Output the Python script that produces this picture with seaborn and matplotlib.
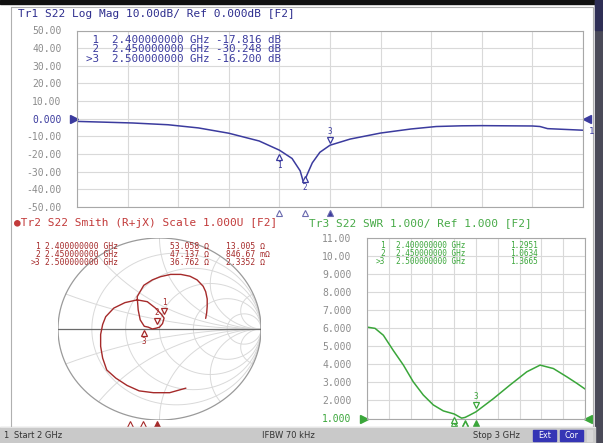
import numpy as np
import matplotlib
matplotlib.use("Agg")
import matplotlib.pyplot as plt
import matplotlib.transforms as mtransforms
from matplotlib.patches import Rectangle
import seaborn as sns

W, H = 603, 443

# Tr1: S22 log mag (GHz, dB)
freq_db = [2.000, 2.050, 2.110, 2.180, 2.240, 2.300, 2.360, 2.400, 2.425, 2.441,
           2.448, 2.455, 2.465, 2.480, 2.500, 2.540, 2.600, 2.660, 2.710, 2.760,
           2.800, 2.900, 2.915, 2.930, 3.000]
logmag_db = [-1.5, -1.9, -2.4, -3.4, -5.2, -8.2, -12.6, -17.8, -22.5, -29.5,
             -36.5, -31.5, -25.0, -19.0, -15.0, -11.5, -8.1, -5.8, -4.4, -4.0,
             -3.9, -4.1, -4.4, -5.6, -6.5]

# Tr3: S22 SWR
freq_swr = [2.000, 2.037, 2.075, 2.120, 2.167, 2.212, 2.258, 2.304, 2.350, 2.400,
            2.434, 2.450, 2.470, 2.500, 2.580, 2.656, 2.733, 2.794, 2.855, 2.917,
            2.963, 3.000]
swr = [6.05, 5.98, 5.6, 4.77, 3.95, 3.03, 2.30, 1.75, 1.42, 1.25,
       1.02, 1.06, 1.18, 1.37, 2.10, 2.85, 3.58, 3.95, 3.76, 3.30,
       2.94, 2.63]

# Tr2: S22 Smith trace, reflection coefficient (re, im)
smith_re = [0.26, 0.10, -0.06, -0.20, -0.32, -0.43, -0.52, -0.56, -0.58, -0.58,
            -0.56, -0.53, -0.45, -0.34, -0.22, -0.12, -0.04, 0.02, 0.045, 0.03,
            0.00, -0.03, -0.07, -0.11, -0.15, -0.19, -0.21, -0.22, -0.155, -0.07,
            0.01, 0.11, 0.21, 0.30, 0.37, 0.43, 0.455, 0.47, 0.47, 0.465, 0.455]
smith_im = [-0.65, -0.70, -0.70, -0.68, -0.62, -0.54, -0.45, -0.32, -0.19, -0.06,
            0.05, 0.135, 0.23, 0.29, 0.32, 0.30, 0.23, 0.16, 0.12, 0.06,
            0.02, 0.01, 0.00, 0.02, 0.03, 0.10, 0.21, 0.355, 0.48, 0.54,
            0.575, 0.60, 0.60, 0.58, 0.54, 0.47, 0.41, 0.33, 0.25, 0.18, 0.117]

marker_ids = ["1", "2", ">3"]
marker_freq = [2.400, 2.450, 2.500]
marker_freq_txt = ["2.400000000", "2.450000000", "2.500000000"]
marker_db = [-17.816, -30.248, -16.200]
marker_swr = [1.2951, 1.0634, 1.3665]
marker_r = [53.058, 47.137, 36.762]
marker_x = [13.005, 0.84667, 2.3352]
marker_r_txt = ["53.058 Ω", "47.137 Ω", "36.762 Ω"]
marker_x_txt = ["13.005 Ω", "846.67 mΩ", "2.3352 Ω"]

db_ticks = [50, 40, 30, 20, 10, 0, -10, -20, -30, -40, -50]
db_labels = ["50.00", "40.00", "30.00", "20.00", "10.00", "0.000",
             "-10.00", "-20.00", "-30.00", "-40.00", "-50.00"]
swr_ticks = [11, 10, 9, 8, 7, 6, 5, 4, 3, 2, 1]
swr_labels = ["11.00", "10.00", "9.000", "8.000", "7.000", "6.000",
              "5.000", "4.000", "3.000", "2.000", "1.000"]

C1, C1T = "#3b3b9e", "#2e2e8e"
C2, C2T = "#a52a2a", "#c23a3a"
C3, C3T = "#3aa63a", "#48aa48"
GRID = "#d9d9d9"
FRAME = "#a8a8a8"
LABEL = "#8c8c8c"
MONO = "DejaVu Sans Mono"

sns.set_style("white")
plt.rcParams["font.family"] = ["DejaVu Sans"]

fig = plt.figure(figsize=(W / 100, H / 100), dpi=100)
fig.patch.set_facecolor("white")


def px_axes(x0, y0, x1, y1, **kw):
    return fig.add_axes([x0 / W, 1 - y1 / H, (x1 - x0) / W, (y1 - y0) / H], **kw)


def graticule(ax, ylim, ticks, labels, ref_idx, color):
    ax.set_xlim(2.0, 3.0)
    ax.set_ylim(*ylim)
    ax.set_xticks(np.linspace(2.0, 3.0, 11))
    ax.set_yticks(ticks)
    ax.set_yticklabels(labels, family=MONO, fontsize=7, color=LABEL)
    ax.get_yticklabels()[ref_idx].set_color(color)
    ax.tick_params(length=0, pad=11, labelbottom=False)
    ax.grid(True, color=GRID, lw=0.8)
    ax.set_xlabel("")
    ax.set_ylabel("")
    for sp in ax.spines.values():
        sp.set_color(FRAME)
        sp.set_linewidth(0.8)


def trace_marker(ax, x, y, label, color, below=False):
    off = -7 if below else 7
    tr = mtransforms.offset_copy(ax.transData, fig=fig, x=0, y=off, units="dots")
    ax.plot(x, y, marker="^" if below else "v", ms=4.5, mfc="white", mec=color,
            mew=0.9, transform=tr, clip_on=False, zorder=6)
    tr2 = mtransforms.offset_copy(ax.transData, fig=fig, x=0, y=2.2 * off, units="dots")
    ax.text(x, y, label, transform=tr2, ha="center", va="center", fontsize=5.5,
            family=MONO, color=color, zorder=6)


def edge_arrow(ax, xa, yv, mk, color, dx):
    bt = mtransforms.blended_transform_factory(ax.transAxes, ax.transData)
    ax.plot(xa, yv, marker=mk, ms=5.5, color=color, clip_on=False,
            transform=mtransforms.offset_copy(bt, fig=fig, x=dx, units="dots"))


# ---------------- top: log mag ----------------
ax1 = px_axes(77, 30.5, 583, 207)
sns.lineplot(x=freq_db, y=logmag_db, ax=ax1, color=C1, lw=1.1, estimator=None, sort=False)
graticule(ax1, (-50, 50), db_ticks, db_labels, 5, C1)
for i, (f, v) in enumerate(zip(marker_freq, marker_db)):
    trace_marker(ax1, f, v, marker_ids[i][-1], C1, below=(i < 2))
    ax1.plot(f, -50, marker="^", ms=5, mec="#6a6aae", mew=0.8,
             mfc="#3b3b9e" if i == 2 else "white",
             transform=mtransforms.offset_copy(ax1.transData, fig=fig, y=-6, units="dots"),
             clip_on=False)
edge_arrow(ax1, 0, 0, ">", C1, -3)
edge_arrow(ax1, 1, 0, "<", C1, 4)

# ---------------- bottom right: SWR ----------------
ax3 = px_axes(367, 237.5, 585, 418.5)
sns.lineplot(x=freq_swr, y=swr, ax=ax3, color=C3, lw=1.1, estimator=None, sort=False)
graticule(ax3, (1, 11), swr_ticks, swr_labels, 10, C3)
for i, (f, v) in enumerate(zip(marker_freq, marker_swr)):
    trace_marker(ax3, f, v, marker_ids[i][-1], C3, below=(i < 2))
    ax3.plot(f, 1, marker="^", ms=5, mec=C3, mew=0.8,
             mfc=C3 if i == 2 else "white",
             transform=mtransforms.offset_copy(ax3.transData, fig=fig, y=-4, units="dots"),
             clip_on=False)
edge_arrow(ax3, 0, 1, ">", C3, -3)
edge_arrow(ax3, 1, 1, "<", C3, 3)

# ---------------- bottom left: Smith ----------------
ax2 = px_axes(58, 238, 261, 420)
ax2.set_xlim(-1, 1)
ax2.set_ylim(-1, 1)
ax2.axis("off")
t = np.linspace(-np.pi / 2 + 1e-3, np.pi / 2 - 1e-3, 400)
for r in [0.2, 0.5, 1, 2, 5]:
    g = (r + 1j * np.tan(t) - 1) / (r + 1j * np.tan(t) + 1)
    ax2.plot(g.real, g.imag, color=GRID, lw=0.7)
s = np.linspace(0, np.pi / 2 - 1e-3, 400)
for xv in [0.2, 0.5, 1, 2, 5]:
    for sign in (1, -1):
        z = np.tan(s) + 1j * sign * xv
        g = (z - 1) / (z + 1)
        ax2.plot(g.real, g.imag, color=GRID, lw=0.7)
th = np.linspace(0, 2 * np.pi, 400)
ax2.plot(np.cos(th), np.sin(th), color="#9a9a9a", lw=0.9)
ax2.plot([-1, 1], [0, 0], color="#6a6a6a", lw=0.9)
sns.lineplot(x=smith_re, y=smith_im, ax=ax2, color=C2, lw=1.0, estimator=None, sort=False)
ax2.set_xlabel("")
ax2.set_ylabel("")
for i, (rr, xx) in enumerate(zip(marker_r, marker_x)):
    g = ((rr + 1j * xx) / 50 - 1) / ((rr + 1j * xx) / 50 + 1)
    trace_marker(ax2, g.real, g.imag, marker_ids[i][-1], C2, below=(i == 2))
for k, xp in enumerate([130, 143, 157]):
    gx = (xp - 159) / 101
    ax2.plot(gx, -1, marker="^", ms=5, mec=C2, mew=0.8,
             mfc=C2 if k == 2 else "white", clip_on=False,
             transform=mtransforms.offset_copy(ax2.transData, fig=fig, y=-4, units="dots"))

# ---------------- overlay: frames, titles, readouts, status bar ----------------
ov = fig.add_axes([0, 0, 1, 1], zorder=10)
ov.set_xlim(0, W)
ov.set_ylim(H, 0)
ov.axis("off")
ov.patch.set_alpha(0)

ov.add_patch(Rectangle((0, 0), W, 3.5, color="#111111"))
ov.plot([11, 593, 593], [7, 7, 427], color="#b0b0b0", lw=0.8)
ov.plot([11, 11], [7, 427], color="#b0b0b0", lw=0.8)
ov.add_patch(Rectangle((594.5, 0), 9, H, color="#4a4a58"))
ov.add_patch(Rectangle((594.5, 0), 9, 30, color="#2e2e55"))

# status bar
ov.add_patch(Rectangle((0, 427), 594.5, 16, color="#c9c9c9"))
ov.plot([0, 594.5], [427, 427], color="#e6e6e6", lw=0.8)
stat = dict(fontsize=6, color="#333333", va="center")
ov.text(3, 435.5, "1", **stat)
ov.text(14, 435.5, "Start 2 GHz", **stat)
ov.text(262, 435.5, "IFBW 70 kHz", **stat)
ov.text(473, 435.5, "Stop 3 GHz", **stat)
for x0, lab in [(533, "Ext"), (560, "Cor")]:
    ov.add_patch(Rectangle((x0, 429.5), 23, 11, color="#3535b5"))
    ov.text(x0 + 11.5, 435.2, lab, fontsize=5.8, color="white", ha="center", va="center")
ov.add_patch(Rectangle((587, 429.5), 5, 11, color="#d8d8d8"))

# titles
ov.text(18, 14, "Tr1 S22 Log Mag 10.00dB/ Ref 0.000dB [F2]", family=MONO,
        fontsize=8, color=C1T, va="center")
ov.text(14, 223, "●Tr2 S22 Smith (R+jX) Scale 1.000U [F2]", family=MONO,
        fontsize=8, color=C2T, va="center")
ov.text(309, 223, "Tr3 S22 SWR 1.000/ Ref 1.000 [F2]", family=MONO,
        fontsize=8, color=C3T, va="center")
ov.text(589, 131, "1", family=MONO, fontsize=6.5, color=C1, va="center")


def column(x, y_top, lines, color, size, spacing, ha="left"):
    ov.text(x, y_top, "\n".join(lines), family=MONO, fontsize=size, color=color,
            ha=ha, va="top", linespacing=spacing)


# marker readouts (one text block per column)
top_rows = [f"{m:>2}  {f} GHz {v:.3f} dB"
            for m, f, v in zip(marker_ids, marker_freq_txt, marker_db)]
column(86, 35, top_rows, C1, 7.8, 0.92)

column(40, 241.5, marker_ids, C2, 5.8, 0.88, ha="right")
column(45, 241.5, [f + " GHz" for f in marker_freq_txt], C2, 5.8, 0.88)
column(170, 241.5, marker_r_txt, C2, 5.8, 0.88)
column(226, 241.5, marker_x_txt, C2, 5.8, 0.88)

column(385, 241, marker_ids, C3, 5.6, 0.88, ha="right")
column(396, 241, [f + " GHz" for f in marker_freq_txt], C3, 5.6, 0.88)
column(510, 241, [f"{v:.4f}" for v in marker_swr], C3, 5.6, 0.88)

fig.savefig("out.png", dpi=100, facecolor="white")
